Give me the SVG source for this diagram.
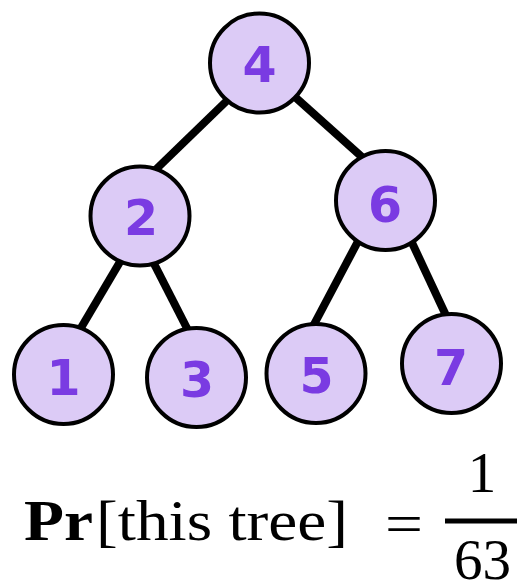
<svg xmlns="http://www.w3.org/2000/svg" width="518" height="583" viewBox="0 0 518 583">
<style>
.node circle{fill:#dccbf6;stroke:#000;stroke-width:4}
.node text{font-family:"DejaVu Sans",Verdana,sans-serif;font-weight:bold;font-size:49px;fill:#7a3be2;text-anchor:middle}
.edges line{stroke:#000;stroke-width:8;stroke-linecap:butt}
.f{font-family:"Liberation Serif","Times New Roman",serif;font-size:57px;fill:#000}
</style>
<rect width="518" height="583" fill="#fff"/>
<g id="edges" class="edges">
<line x1="240" y1="88" x2="145" y2="180"/>
<line x1="285" y1="88" x2="372" y2="166"/>
<line x1="127" y1="250" x2="75" y2="338"/>
<line x1="147" y1="250" x2="193" y2="340"/>
<line x1="364" y1="230" x2="310" y2="332"/>
<line x1="407" y1="232" x2="450" y2="324"/>
</g>
<g id="n4" class="node"><circle cx="259.5" cy="63" r="49.5"/><text x="259.5" y="82">4</text></g>
<g id="n2" class="node"><circle cx="140" cy="216" r="49.5"/><text x="141" y="235">2</text></g>
<g id="n6" class="node"><circle cx="385.5" cy="200.5" r="49.5"/><text x="385" y="222">6</text></g>
<g id="n1" class="node"><circle cx="63.5" cy="374.5" r="49.5"/><text x="63.5" y="395">1</text></g>
<g id="n3" class="node"><circle cx="196.5" cy="377.5" r="49.5"/><text x="197" y="397">3</text></g>
<g id="n5" class="node"><circle cx="316" cy="373.5" r="49.5"/><text x="316.5" y="393">5</text></g>
<g id="n7" class="node"><circle cx="451.5" cy="363.5" r="49.5"/><text x="451" y="385">7</text></g>
<g id="formula">
<text class="f" x="24" y="540" font-weight="bold" textLength="69" lengthAdjust="spacingAndGlyphs">Pr</text>
<text class="f" x="96" y="540" textLength="252" lengthAdjust="spacingAndGlyphs">[this tree]</text>
<text class="f" x="404" y="543" text-anchor="middle" font-size="66" textLength="38" lengthAdjust="spacingAndGlyphs">=</text>
<rect x="445" y="518.5" width="72" height="5" fill="#000"/>
<text class="f" x="482" y="492" text-anchor="middle" font-size="59">1</text>
<text class="f" x="482.5" y="579" text-anchor="middle" font-size="58">63</text>
</g>
</svg>
